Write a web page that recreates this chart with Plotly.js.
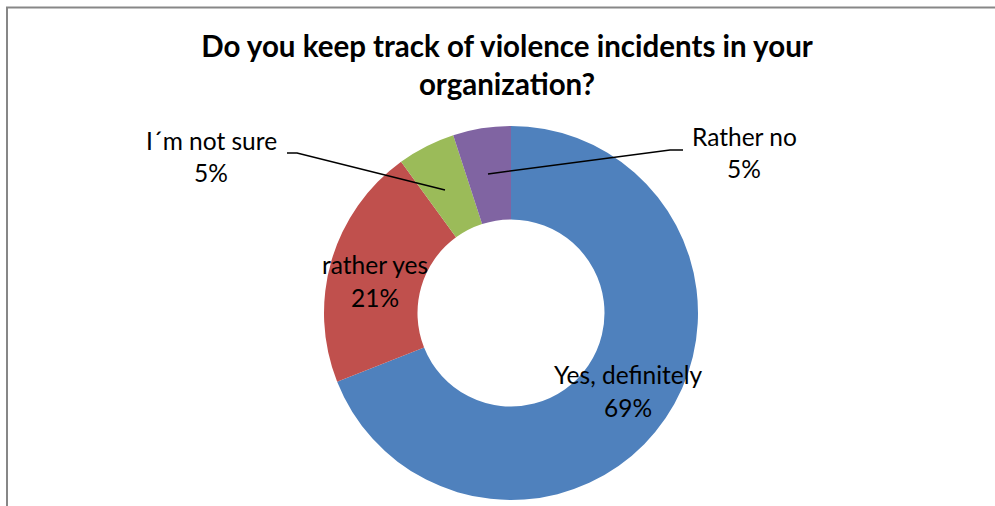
<!DOCTYPE html>
<html>
<head>
<meta charset="utf-8">
<script src="https://cdn.plot.ly/plotly-3.0.1.min.js"></script>
<style>
  html, body { margin: 0; padding: 0; background: #ffffff; }
  #chart { width: 995px; height: 506px; }
</style>
</head>
<body>
<div id="chart"></div>
<script>
// ---- data ----
const categories = ["Yes, definitely", "rather yes", "I\u00b4m not sure", "Rather no"];
const shares = [69, 21, 5, 5];
const sliceColors = ["#4F81BD", "#C0504D", "#9BBB59", "#8064A2"];
const chartTitle = "Do you keep track of violence incidents in your<br>organization?";

// ---- layout helpers (pixel -> paper, margins are 0) ----
const W = 995, H = 506;
const px = (x) => x / W;
const py = (y) => 1 - y / H;

const total = shares.reduce((a, b) => a + b, 0);
const pctText = shares.map(v => Math.round(v / total * 100) + "%");

// label anchor positions (centres of name line / pct line), in pixels
const labelPos = [
  { x: 628, y1: 374, y2: 407 },
  { x: 375, y1: 264, y2: 297 },
  { x: 211, y1: 141, y2: 172 },
  { x: 744, y1: 136, y2: 168 }
];

const labelFont = { family: "Lato, 'Open Sans', sans-serif", size: 24.5, color: "#000000" };

const annotations = [];
categories.forEach((c, i) => {
  const p = labelPos[i];
  annotations.push({ xref: "paper", yref: "paper", x: px(p.x), y: py(p.y1), text: c,
    showarrow: false, xanchor: "center", yanchor: "middle", font: labelFont });
  annotations.push({ xref: "paper", yref: "paper", x: px(p.x), y: py(p.y2), text: pctText[i],
    showarrow: false, xanchor: "center", yanchor: "middle", font: labelFont });
});

const path = (pts) => pts.map((p, i) => (i ? "L" : "M") + px(p[0]) + "," + py(p[1])).join(" ");

const shapes = [
  // chart frame (left and top edges visible)
  { type: "path", xref: "paper", yref: "paper",
    path: path([[7, 506], [7, 7.5], [995, 7.5]]),
    line: { color: "#878787", width: 2 } },
  // leader line: I'm not sure
  { type: "path", xref: "paper", yref: "paper",
    path: path([[287, 153], [297, 153], [445, 190]]),
    line: { color: "#000000", width: 1.5 } },
  // leader line: Rather no
  { type: "path", xref: "paper", yref: "paper",
    path: path([[683, 150], [670, 150], [488, 174]]),
    line: { color: "#000000", width: 1.5 } }
];

const trace = {
  type: "pie",
  labels: categories,
  values: shares,
  hole: 0.5,
  sort: false,
  direction: "clockwise",
  rotation: 0,
  textinfo: "none",
  hoverinfo: "label+percent",
  marker: { colors: sliceColors, line: { color: "#ffffff", width: 0 } },
  domain: { x: [px(324), px(698)], y: [py(500), py(126)] },
  showlegend: false
};

const layout = {
  width: W, height: H,
  margin: { l: 0, r: 0, t: 0, b: 0 },
  paper_bgcolor: "#ffffff",
  plot_bgcolor: "#ffffff",
  showlegend: false,
  title: {
    text: chartTitle,
    font: { family: "Lato, 'Open Sans', sans-serif", size: 29.5, color: "#000000", weight: "bold" },
    x: px(507), xanchor: "center",
    y: py(57), yanchor: "top", yref: "container"
  },
  annotations: annotations,
  shapes: shapes
};

Plotly.newPlot("chart", [trace], layout, { displayModeBar: false, staticPlot: true });
</script>
</body>
</html>
